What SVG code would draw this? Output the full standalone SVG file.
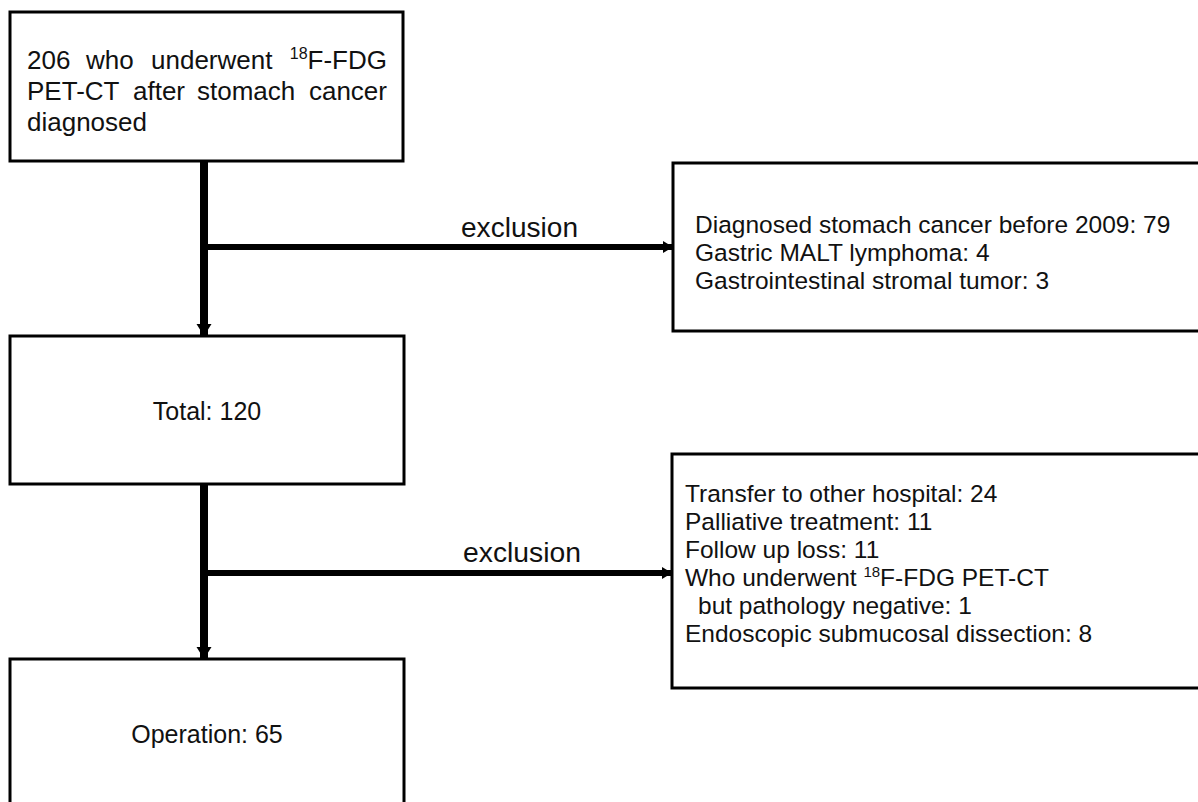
<svg xmlns="http://www.w3.org/2000/svg" width="1198" height="802" viewBox="0 0 1198 802">
<style>
.box{fill:#fff;stroke:#000;stroke-width:3}
.t{font-family:"Liberation Sans",Arial,sans-serif;font-size:25px;fill:#111}
.b{font-family:"Liberation Sans",Arial,sans-serif;font-size:26px;fill:#111}
.x{font-family:"Liberation Sans",Arial,sans-serif;font-size:27px;fill:#111}
.s{font-family:"Liberation Sans",Arial,sans-serif;font-size:24.5px;fill:#111}
.sup{font-size:15px}
.sup2{font-size:16px}
.ln{stroke:#000;fill:none}
</style>
<defs>
<marker id="ah" markerUnits="userSpaceOnUse" markerWidth="18" markerHeight="16" refX="12" refY="8" orient="auto">
<path d="M0,0.5 L12,8 L0,15.5 Z" fill="#000"/>
</marker>
<marker id="ah2" markerUnits="userSpaceOnUse" markerWidth="16" markerHeight="16" refX="10" refY="7" orient="auto">
<path d="M0,1 L10,7 L0,13 Z" fill="#000"/>
</marker>
</defs>
<rect width="1198" height="802" fill="#fff"/>
<g id="connectors">
<line class="ln" x1="204" y1="161" x2="204" y2="336" stroke-width="8" marker-end="url(#ah)"/>
<line class="ln" x1="204" y1="247" x2="673" y2="247" stroke-width="6" marker-end="url(#ah2)"/>
<line class="ln" x1="204" y1="484" x2="204" y2="659" stroke-width="8" marker-end="url(#ah)"/>
<line class="ln" x1="204" y1="573" x2="672" y2="573" stroke-width="6" marker-end="url(#ah2)"/>
<text class="x" x="461" y="237" textLength="117" lengthAdjust="spacingAndGlyphs">exclusion</text>
<text class="x" x="463" y="562" textLength="118" lengthAdjust="spacingAndGlyphs">exclusion</text>
</g>
<g id="n1">
<rect class="box" x="10" y="12" width="393" height="149"/>
<text class="b" y="69"><tspan x="27">206</tspan><tspan x="86">who</tspan><tspan x="151">underwent</tspan></text>
<text class="b" x="387" y="69" text-anchor="end"><tspan class="sup2" dy="-10">18</tspan><tspan dy="10">F-FDG</tspan></text>
<text class="b" y="100"><tspan x="27">PET-CT</tspan><tspan x="133">after</tspan><tspan x="197">stomach</tspan></text>
<text class="b" x="387" y="100" text-anchor="end">cancer</text>
<text class="b" x="27" y="131">diagnosed</text>
</g>
<g id="n2">
<rect class="box" x="10" y="336" width="394" height="148"/>
<text class="t" x="207" y="420" text-anchor="middle">Total: 120</text>
</g>
<g id="n3">
<rect class="box" x="673" y="163" width="540" height="168"/>
<text class="s" x="695" y="233">Diagnosed stomach cancer before 2009: 79</text>
<text class="s" x="695" y="261">Gastric MALT lymphoma: 4</text>
<text class="s" x="695" y="289">Gastrointestinal stromal tumor: 3</text>
</g>
<g id="n4">
<rect class="box" x="672" y="454" width="540" height="234"/>
<text class="s" x="685" y="502">Transfer to other hospital: 24</text>
<text class="s" x="685" y="530">Palliative treatment: 11</text>
<text class="s" x="685" y="558">Follow up loss: 11</text>
<text class="s" x="685" y="586">Who underwent <tspan class="sup" dy="-9">18</tspan><tspan dy="9">F-FDG PET-CT</tspan></text>
<text class="s" x="698" y="614">but pathology negative: 1</text>
<text class="s" x="685" y="642">Endoscopic submucosal dissection: 8</text>
</g>
<g id="n5">
<rect class="box" x="10" y="659" width="394" height="160"/>
<text class="t" x="207" y="743" text-anchor="middle">Operation: 65</text>
</g>
</svg>
